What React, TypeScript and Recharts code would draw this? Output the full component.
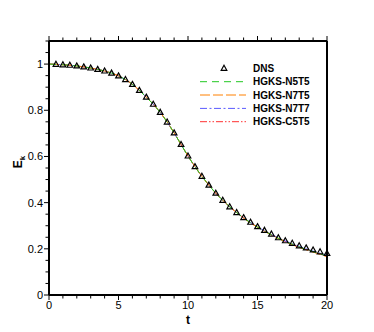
import { ComposedChart, Line, XAxis, YAxis, Legend, Label } from "recharts";

// time samples of the model curves
const tValues = [
   0, 0.5, 1, 1.5, 2, 2.5, 3, 3.5, 4, 4.5, 5, 5.5, 6, 6.5, 7, 7.5, 8, 8.5, 9, 9.5, 10,
   10.5, 11, 11.5, 12, 12.5, 13, 13.5, 14, 14.5, 15, 15.5, 16, 16.5, 17, 17.5, 18, 18.5,
   19, 19.5, 20,
];

const n5t5 = [
   1.0, 0.999, 0.997, 0.995, 0.992, 0.988, 0.983, 0.977, 0.97, 0.961, 0.949, 0.933, 0.912,
   0.886, 0.857, 0.826, 0.791, 0.749, 0.702, 0.652, 0.602, 0.556, 0.514, 0.476, 0.441, 0.41,
   0.382, 0.357, 0.334, 0.313, 0.294, 0.277, 0.261, 0.246, 0.232, 0.22, 0.208, 0.198, 0.188,
   0.178, 0.169,
];

const n7t5 = [
   1.0, 0.999, 0.997, 0.995, 0.992, 0.988, 0.983, 0.977, 0.97, 0.961, 0.949, 0.933, 0.912,
   0.886, 0.857, 0.826, 0.791, 0.749, 0.702, 0.652, 0.602, 0.556, 0.514, 0.476, 0.441, 0.41,
   0.382, 0.357, 0.333, 0.312, 0.293, 0.276, 0.26, 0.245, 0.231, 0.218, 0.206, 0.196, 0.186,
   0.176, 0.166,
];

const n7t7 = [
   1.0, 0.999, 0.997, 0.995, 0.992, 0.988, 0.983, 0.977, 0.97, 0.961, 0.949, 0.933, 0.912,
   0.886, 0.857, 0.826, 0.791, 0.749, 0.702, 0.652, 0.602, 0.556, 0.514, 0.476, 0.441, 0.41,
   0.382, 0.357, 0.334, 0.314, 0.295, 0.278, 0.262, 0.248, 0.234, 0.222, 0.211, 0.2, 0.19,
   0.181, 0.172,
];

const c5t5 = [
   1.0, 0.999, 0.997, 0.995, 0.992, 0.988, 0.983, 0.977, 0.97, 0.961, 0.949, 0.933, 0.912,
   0.886, 0.857, 0.826, 0.791, 0.749, 0.702, 0.652, 0.602, 0.556, 0.514, 0.476, 0.441, 0.41,
   0.382, 0.357, 0.334, 0.313, 0.294, 0.277, 0.261, 0.246, 0.232, 0.219, 0.207, 0.197, 0.187,
   0.177, 0.167,
];

// DNS reference points
const dnsT = [
   0.5, 1, 1.5, 2, 2.5, 3, 3.5, 4, 4.5, 5, 5.5, 6, 6.5, 7, 7.5, 8, 8.5, 9, 9.5, 10, 10.5,
   11, 11.5, 12, 12.5, 13, 13.5, 14, 14.5, 15, 15.5, 16, 16.5, 17, 17.5, 18, 18.5, 19, 19.5,
   20,
];

const dnsE = [
   0.999, 0.997, 0.995, 0.992, 0.988, 0.983, 0.977, 0.97, 0.961, 0.949, 0.933, 0.912, 0.886,
   0.857, 0.826, 0.791, 0.749, 0.702, 0.652, 0.602, 0.556, 0.514, 0.476, 0.441, 0.41, 0.382,
   0.357, 0.335, 0.315, 0.296, 0.28, 0.264, 0.248, 0.235, 0.224, 0.213, 0.204, 0.195, 0.187,
   0.18,
];

const xTicks = [0, 1, 2, 3, 4, 5, 6, 7, 8, 9, 10, 11, 12, 13, 14, 15, 16, 17, 18, 19, 20];
const xLabels = ["0", "5", "10", "15", "20"];
const yTicks = [
   0, 0.05, 0.1, 0.15, 0.2, 0.25, 0.3, 0.35, 0.4, 0.45, 0.5, 0.55, 0.6, 0.65, 0.7, 0.75,
   0.8, 0.85, 0.9, 0.95, 1, 1.05, 1.1,
];
const yLabels = ["0", "0.2", "0.4", "0.6", "0.8", "1"];

const FONT = '"Liberation Sans", Arial, Helvetica, sans-serif';

const rows = tValues.map((t, i) => {
   const j = dnsT.indexOf(t);
   return {
      t,
      n5t5: n5t5[i],
      n7t5: n7t5[i],
      n7t7: n7t7[i],
      c5t5: c5t5[i],
      dns: j >= 0 ? dnsE[j] : null,
   };
});

type Series = { key: string; name: string; color: string; dash: string };

const series: Series[] = [
   { key: "c5t5", name: "HGKS-C5T5", color: "#ff3030", dash: "7 2 1.5 2 1.5 2" },
   { key: "n7t7", name: "HGKS-N7T7", color: "#5a5aff", dash: "7 2.5 2 2.5" },
   { key: "n7t5", name: "HGKS-N7T5", color: "#ff8000", dash: "10 3" },
   { key: "n5t5", name: "HGKS-N5T5", color: "#22c822", dash: "7 5" },
];

const legendOrder = ["n5t5", "n7t5", "n7t7", "c5t5"];

const isMajorX = (v: number) => xLabels.includes(String(v));
const yLabelOf = (v: number) => {
   const s = String(Math.round(v * 100) / 100);
   return yLabels.includes(s) ? s : null;
};

const BottomTick = (props: any) => {
   const { x, y, payload } = props;
   const major = isMajorX(payload.value);
   return (
      <g>
         <line x1={x} x2={x} y1={y} y2={y + (major ? 5 : 3.5)} stroke="#000" />
         {major && (
            <text x={x} y={y + 14} textAnchor="middle" fontSize={11} fontFamily={FONT} fill="#000">
               {payload.value}
            </text>
         )}
      </g>
   );
};

const TopTick = (props: any) => {
   const { x, y, payload } = props;
   const major = isMajorX(payload.value);
   return <line x1={x} x2={x} y1={y} y2={y - (major ? 5 : 3.5)} stroke="#000" />;
};

const LeftTick = (props: any) => {
   const { x, y, payload } = props;
   const label = yLabelOf(payload.value);
   return (
      <g>
         <line x1={x} x2={x - (label ? 5 : 3.5)} y1={y} y2={y} stroke="#000" />
         {label && (
            <text x={x - 6} y={y + 4} textAnchor="end" fontSize={11} fontFamily={FONT} fill="#000">
               {label}
            </text>
         )}
      </g>
   );
};

const RightTick = (props: any) => {
   const { x, y, payload } = props;
   const label = yLabelOf(payload.value);
   return <line x1={x} x2={x + (label ? 5 : 3.5)} y1={y} y2={y} stroke="#000" />;
};

const Triangle = (props: any) => {
   const { cx, cy, value, index } = props;
   if (value == null || cx == null || cy == null) return <g key={`d-${index}`} />;
   return (
      <path
         key={`d-${index}`}
         d={`M${cx},${cy - 3} L${cx + 2.8},${cy + 2} L${cx - 2.8},${cy + 2} Z`}
         fill="none"
         stroke="#000"
         strokeWidth={1.2}
      />
   );
};

const LegendBox = () => {
   const rowY = [8.3, 21.7, 35, 48.4, 61.7];
   return (
      <svg width={150} height={72} style={{ overflow: "visible", display: "block" }}>
         <path d={`M29,${rowY[0] - 3} L31.8,${rowY[0] + 2} L26.2,${rowY[0] + 2} Z`} fill="none" stroke="#000" strokeWidth={1.2} />
         <text x={58} y={rowY[0] + 3.6} fontSize={10} fontWeight="bold" fontFamily={FONT}>
            DNS
         </text>
         {legendOrder.map((k, i) => {
            const s = series.find((e) => e.key === k)!;
            const y = rowY[i + 1];
            return (
               <g key={k}>
                  <line x1={5} x2={51} y1={y} y2={y} stroke={s.color} strokeDasharray={s.dash} />
                  <text x={58} y={y + 3.6} fontSize={10} fontWeight="bold" fontFamily={FONT}>
                     {s.name}
                  </text>
               </g>
            );
         })}
      </svg>
   );
};

export default function App() {
   return (
      <div style={{ position: "absolute", left: 0, top: 0, width: 374, height: 332, background: "#fff" }}>
         <ComposedChart
            width={374}
            height={332}
            data={rows}
            margin={{ top: 21, right: 27, bottom: 7, left: 9 }}
         >
            <XAxis
               dataKey="t"
               type="number"
               domain={[0, 20]}
               ticks={xTicks}
               interval={0}
               height={30}
               tickSize={0}
               tickMargin={0}
               tickLine={false}
               axisLine={{ stroke: "#000", strokeWidth: 2 }}
               tick={<BottomTick />}
            >
               <Label
                  content={() => (
                     <text x={188} y={324} textAnchor="middle" fontSize={12} fontWeight="bold" fontFamily={FONT}>
                        t
                     </text>
                  )}
               />
            </XAxis>
            <XAxis
               xAxisId="top"
               orientation="top"
               dataKey="t"
               type="number"
               domain={[0, 20]}
               ticks={xTicks}
               interval={0}
               height={20}
               tickSize={0}
               tickMargin={0}
               tickLine={false}
               axisLine={{ stroke: "#000", strokeWidth: 2 }}
               tick={<TopTick />}
            />
            <YAxis
               type="number"
               domain={[0, 1.1]}
               ticks={yTicks}
               interval={0}
               width={40}
               tickSize={0}
               tickMargin={0}
               tickLine={false}
               allowDataOverflow
               axisLine={{ stroke: "#000", strokeWidth: 2 }}
               tick={<LeftTick />}
            >
               <Label
                  content={() => (
                     <text
                        x={22}
                        y={162}
                        textAnchor="middle"
                        transform="rotate(-90 22 162)"
                        fontSize={12}
                        fontWeight="bold"
                        fontFamily={FONT}
                     >
                        E
                        <tspan fontSize={8} dy={3}>
                           k
                        </tspan>
                     </text>
                  )}
               />
            </YAxis>
            <YAxis
               yAxisId="right"
               orientation="right"
               type="number"
               domain={[0, 1.1]}
               ticks={yTicks}
               interval={0}
               width={20}
               tickSize={0}
               tickMargin={0}
               tickLine={false}
               axisLine={{ stroke: "#000", strokeWidth: 2 }}
               tick={<RightTick />}
            />
            <Legend
               layout="vertical"
               align="center"
               verticalAlign="middle"
               content={<LegendBox />}
               wrapperStyle={{ position: "absolute", left: 195, top: 60, width: 150, height: 72 }}
            />
            {series.map((s) => (
               <Line
                  key={s.key}
                  dataKey={s.key}
                  name={s.name}
                  type="monotone"
                  stroke={s.color}
                  strokeWidth={1}
                  strokeDasharray={s.dash}
                  dot={false}
                  activeDot={false}
                  isAnimationActive={false}
               />
            ))}
            <Line
               dataKey="dns"
               name="DNS"
               stroke="none"
               dot={<Triangle />}
               activeDot={false}
               legendType="triangle"
               isAnimationActive={false}
            />
         </ComposedChart>
      </div>
   );
}
